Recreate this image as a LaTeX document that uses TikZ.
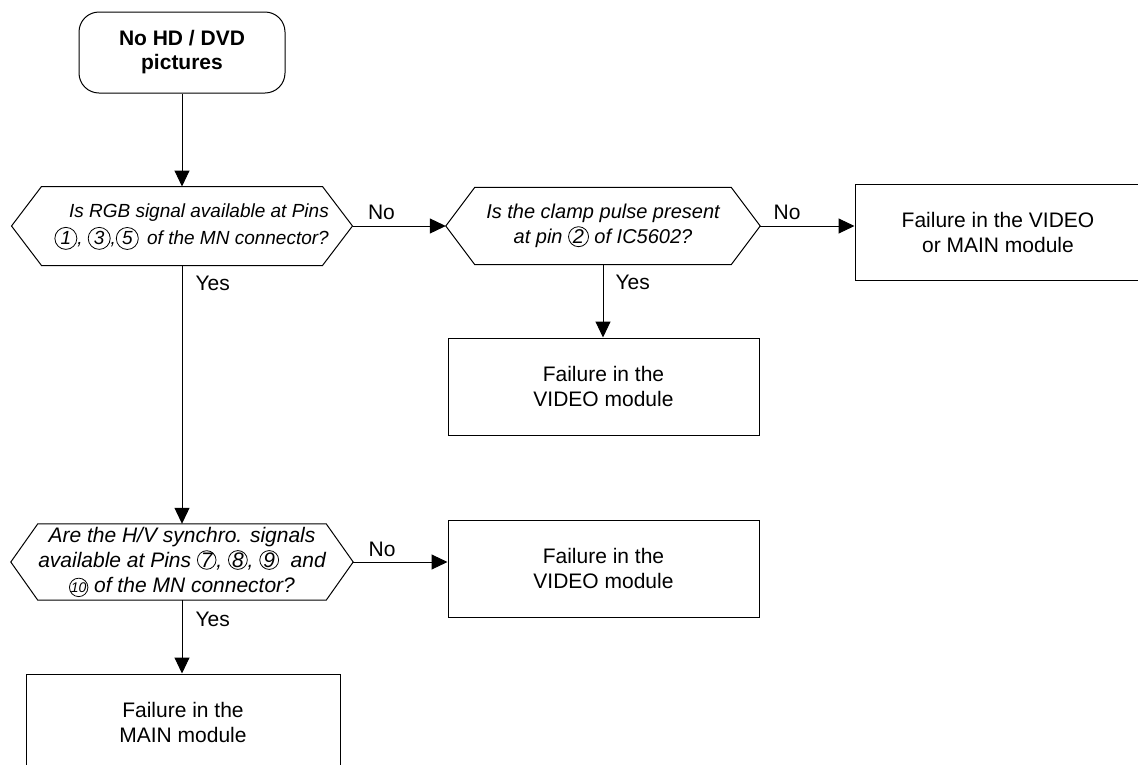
\documentclass[tikz,border=0pt]{standalone}
\usepackage{fontspec}
\setmainfont{Liberation Sans}
\usetikzlibrary{arrows.meta}
\newcommand\cnum[3][]{\tikz[baseline=(cn.base)]\node[circle,draw,line width=0.8pt,inner sep=0pt,minimum size=#2pt,font={\itshape#1}](cn){#3};}
\newcommand\hexdraw[2]{\draw (#1.west) -- ([xshift=#2pt]#1.north west) -- ([xshift=-#2pt]#1.north east) -- (#1.east) -- ([xshift=-#2pt]#1.south east) -- ([xshift=#2pt]#1.south west) -- cycle;}
\begin{document}
\begin{tikzpicture}[x=1pt,y=-1pt,line width=1pt,
  boxnode/.style={draw, rectangle, align=center, inner sep=0pt, font=\fontsize{21}{25}\selectfont},
  hexnode/.style={align=center, inner sep=0pt, font=\itshape\fontsize{#1}{25}\selectfont},
  arr/.style={-{Triangle[length=16pt,width=15pt]}},
  lbl/.style={font=\fontsize{21}{25}\selectfont, inner sep=0pt}]
\clip (0,0) rectangle (1138,764);
\fill[white] (0,0) rectangle (1138,764);
\node[boxnode, rounded corners=20pt, minimum width=206pt, minimum height=81pt, font=\bfseries\fontsize{21}{24}\selectfont] (start) at (182,52.5) {No HD / DVD\\pictures};
\node[hexnode=19, minimum width=340pt, minimum height=78pt] (q1) at (182,226) {};
\hexdraw{q1}{30}
\node[align=right, inner sep=0pt, anchor=east, font=\itshape\fontsize{19}{27}\selectfont] (t1) at (329,227) {Is RGB signal available at Pins\\\cnum{22}{1},\ \cnum{22}{3},\cnum{22}{5}\ \,of the MN connector?};
\node[hexnode=20, minimum width=314pt, minimum height=77pt] (q3) at (603,226) {Is the clamp pulse present\\at pin \cnum{20}{2} of IC5602?};
\hexdraw{q3}{29}
\node[boxnode, minimum width=286pt, minimum height=96pt] (r1) at (998,232) {Failure in the VIDEO\\or MAIN module};
\node[boxnode, minimum width=311pt, minimum height=97pt] (v1) at (603.5,386.5) {Failure in the\\VIDEO module};
\node[hexnode=21, minimum width=342pt, minimum height=76pt] (q2) at (182,562) {Are the H/V synchro. signals\\available at Pins \cnum{17}{7}, \cnum{17}{8}, \cnum{17}{9}\ \ and\\\cnum[\fontsize{14}{14}\selectfont]{17}{10} of the MN connector?};
\hexdraw{q2}{27}
\node[boxnode, minimum width=311pt, minimum height=97pt] (v2) at (603.5,568.5) {Failure in the\\VIDEO module};
\node[boxnode, minimum width=314pt, minimum height=97pt] (m1) at (183,722.5) {Failure in the\\MAIN module};
\draw[arr] (start.south) -- (q1.north);
\draw[arr] (q1.east) -- (q3.west);
\draw[arr] (q3.east) -- (q3.east -| r1.west);
\draw[arr] (q3.south) -- (q3.south |- v1.north);
\draw[arr] (q1.south) -- (q2.north);
\draw[arr] (q2.east) -- (q2.east -| v2.west);
\draw[arr] (q2.south) -- (q2.south |- m1.north);
\node[lbl, anchor=south west] (n1) at ([xshift=15pt,yshift=6pt]q1.east) {No};
\node[lbl, anchor=south west] (n2) at ([xshift=13pt,yshift=6pt]q3.east) {No};
\node[lbl, anchor=south west] (n3) at ([xshift=15pt,yshift=5pt]q2.east) {No};
\node[lbl, anchor=north west] (y1) at ([xshift=13pt,yshift=-10pt]q1.south) {Yes};
\node[lbl, anchor=north west] (y2) at ([xshift=12pt,yshift=-10pt]q3.south) {Yes};
\node[lbl, anchor=north west] (y3) at ([xshift=13pt,yshift=-11pt]q2.south) {Yes};
\end{tikzpicture}
\end{document}
